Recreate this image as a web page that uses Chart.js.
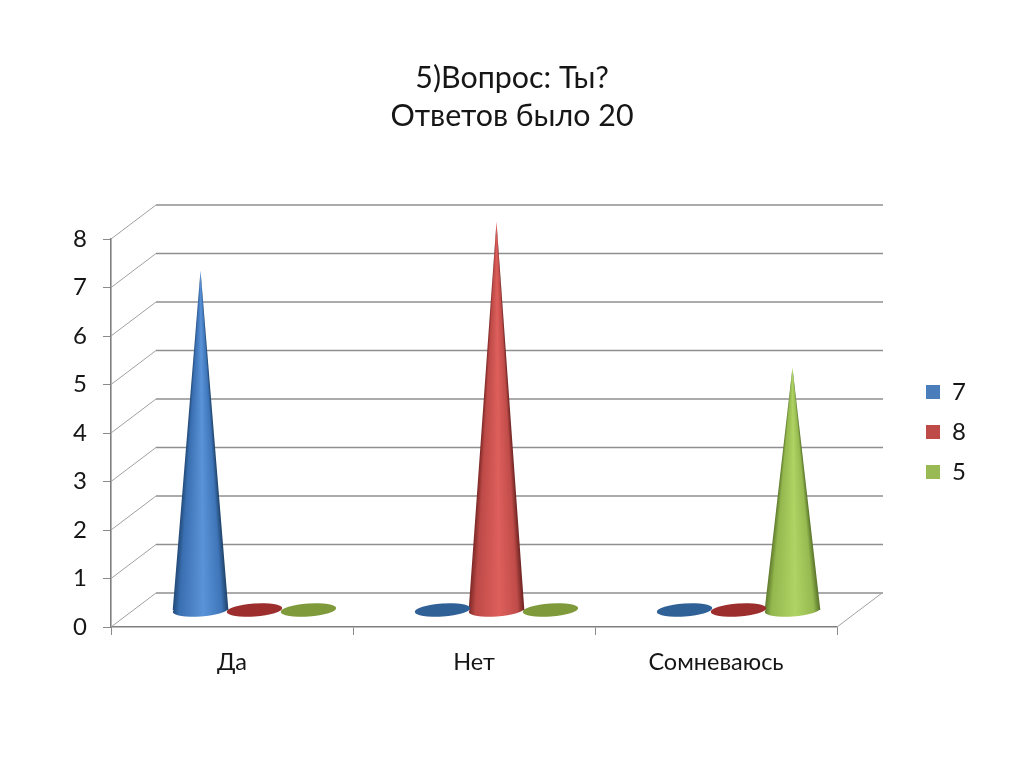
<!DOCTYPE html>
<html lang="ru">
<head>
<meta charset="utf-8">
<title>Вопрос 5</title>
<script src="https://cdn.jsdelivr.net/npm/chart.js@4/dist/chart.umd.min.js"></script>
<style>
  html, body { margin: 0; padding: 0; background: #fff; }
  canvas { display: block; }
</style>
</head>
<body>
<canvas id="questionChart" width="1024" height="767"></canvas>
<script>
const titleLines = ["5)Вопрос: Ты?", "Ответов было 20"];
const categories = ["Да", "Нет", "Сомневаюсь"];
const seriesNames = ["7", "8", "5"];
const seriesFirst = [7, 0, 0];
const seriesSecond = [0, 8, 0];
const seriesThird = [0, 0, 5];
const yMax = 8;

const FONT = "Lato, 'Open Sans', sans-serif";
const TEXT_COLOR = "#161616";
const DEPTH_X = 45;
const DEPTH_Y = 34;

// cone shading: edge, side, highlight, side, edge + flat colour of a zero-height disc
const SHADES = [
  { stops: ["#234a78", "#3a70b2", "#5b93d8", "#3f76ba", "#1f4268"], disc: "#2f6096" },
  { stops: ["#7c2826", "#bd4a47", "#de5f5c", "#c04c49", "#6c2321"], disc: "#9c2f2d" },
  { stops: ["#5f7a2c", "#94b84e", "#b0d364", "#96ba50", "#587229"], disc: "#7f9a3a" },
];
const SHADE_OFFSETS = [0, 0.12, 0.55, 0.88, 1];

/** Draws the walls and floor behind the cones from the scale positions. */
const depthGrid = {
  id: "depthGrid",
  afterLayout(chart) {
    // the legend and title sit outside the plot margins
    const legend = chart.legend;
    legend.left = 910;
    legend.right = 1024;
    legend.top = 232;
    legend.bottom = 632;
    chart.titleBlock.left = 0;
    chart.titleBlock.right = 1024;
  },
  beforeDatasetsDraw(chart) {
    const { ctx, scales } = chart;
    const left = scales.x.left;
    const right = scales.x.right;
    ctx.save();
    scales.y.ticks.forEach((tick) => {
      const y = scales.y.getPixelForValue(tick.value);
      ctx.strokeStyle = "#a0a0a0";
      ctx.lineWidth = 1;
      ctx.beginPath();
      ctx.moveTo(left, y);
      ctx.lineTo(left + DEPTH_X, y - DEPTH_Y);
      ctx.stroke();
      ctx.strokeStyle = "#8f8f8f";
      ctx.lineWidth = 1.6;
      ctx.beginPath();
      ctx.moveTo(left + DEPTH_X, y - DEPTH_Y);
      ctx.lineTo(right + DEPTH_X + 1, y - DEPTH_Y);
      ctx.stroke();
    });
    const floor = scales.y.getPixelForValue(0);
    ctx.strokeStyle = "#a0a0a0";
    ctx.lineWidth = 1;
    ctx.beginPath();
    ctx.moveTo(right, floor);
    ctx.lineTo(right + DEPTH_X, floor - DEPTH_Y);
    ctx.stroke();
    ctx.restore();
  },
  beforeDatasetDraw(chart, args) {
    const meta = args.meta;
    meta.data.forEach((bar, i) => {
      const value = chart.data.datasets[args.index].data[i];
      drawCone(chart.ctx, bar, value, SHADES[args.index]);
    });
    return false;
  },
};

function shadeGradient(ctx, cx, r, stops) {
  const gradient = ctx.createLinearGradient(cx - r, 0, cx + r, 0);
  SHADE_OFFSETS.forEach((stop, i) => gradient.addColorStop(stop, stops[i]));
  return gradient;
}

/**
 * Draws one cone on a bar element, or a flat disc when the value is zero.
 * @param {CanvasRenderingContext2D} ctx
 * @param {object} bar - Bar element with x, y and width
 * @param {number} value - The value of the bar
 * @param {object} shade - One entry of SHADES
 */
function drawCone(ctx, bar, value, shade) {
  const cx = bar.x + DEPTH_X / 2;
  const cy = Math.round(bar.base - DEPTH_Y / 2);
  const rx = bar.width * 0.515;
  const ry = 6.5;
  const tilt = -0.07;

  ctx.save();
  if (value === 0) {
    ctx.fillStyle = shade.disc;
    ctx.beginPath();
    ctx.ellipse(cx, cy, rx, ry, tilt, 0, Math.PI * 2);
    ctx.fill();
    ctx.restore();
    return;
  }
  // base of the cone first, then whole-pixel rows up to the tip so the dark edges follow the sides
  ctx.fillStyle = shadeGradient(ctx, cx, rx, shade.stops);
  ctx.beginPath();
  ctx.ellipse(cx, cy, rx, ry, tilt, 0, Math.PI * 2);
  ctx.fill();

  const height = cy - Math.round(bar.y - DEPTH_Y / 2);
  for (let row = 0; row < height; row++) {
    const r = rx * (1 - row / height);
    ctx.fillStyle = shadeGradient(ctx, cx, r, shade.stops);
    ctx.fillRect(cx - r, cy - row - 1, r * 2, 1);
  }
  ctx.restore();
}

new Chart(document.getElementById("questionChart"), {
  type: "bar",
  data: {
    labels: categories,
    datasets: [
      { label: seriesNames[0], data: seriesFirst, backgroundColor: "#4a7ebb" },
      { label: seriesNames[1], data: seriesSecond, backgroundColor: "#be4b48" },
      { label: seriesNames[2], data: seriesThird, backgroundColor: "#98b954" },
    ],
  },
  options: {
    responsive: false,
    animation: false,
    layout: { padding: { right: 187 } },
    datasets: { bar: { barPercentage: 1, categoryPercentage: 0.669 } },
    plugins: {
      tooltip: { enabled: false },
      title: {
        display: true,
        text: titleLines,
        color: TEXT_COLOR,
        font: { family: FONT, size: 30.4, weight: "normal", lineHeight: 1.25 },
        padding: { top: 59, bottom: 104 },
      },
      legend: {
        position: "chartArea",
        labels: {
          color: TEXT_COLOR,
          font: { family: FONT, size: 24 },
          boxWidth: 14,
          boxHeight: 14,
          padding: 16,
        },
      },
    },
    scales: {
      x: {
        afterFit: (scale) => { scale.height = 140; },
        grid: { drawOnChartArea: false, tickLength: 8, color: "#8a8a8a", offset: true },
        border: { color: "#7f7f7f", width: 1.6 },
        ticks: { color: TEXT_COLOR, font: { family: FONT, size: 23.5 }, padding: 13, maxRotation: 0 },
      },
      y: {
        min: 0,
        max: yMax,
        afterFit: (scale) => { scale.width = 111; },
        grid: { drawOnChartArea: false, tickLength: 8, color: "#8a8a8a" },
        border: { color: "#7f7f7f", width: 1.6 },
        ticks: { stepSize: 1, color: TEXT_COLOR, font: { family: FONT, size: 24 }, padding: 16 },
      },
    },
  },
  plugins: [depthGrid],
});
</script>
</body>
</html>
